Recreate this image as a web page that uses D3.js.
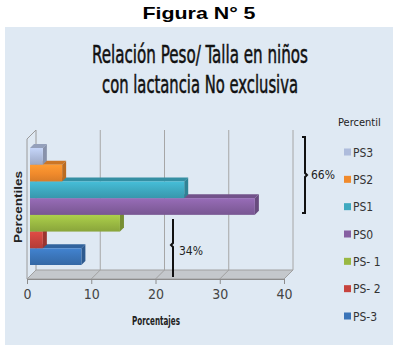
<!DOCTYPE html>
<html>
<head>
<meta charset="utf-8">
<script src="https://cdn.jsdelivr.net/npm/d3@7"></script>
<style>
  body { margin: 0; background: #fff; }
  svg { display: block; }
</style>
</head>
<body>
<svg id="chart" width="399" height="350"></svg>
<script>
const categories = ["PS3", "PS2", "PS1", "PS0", "PS- 1", "PS- 2", "PS-3"]
const values = [2, 5, 24, 35, 14, 2, 8]
const barColors = ["#aebcdc", "#f08a2c", "#3ea8bf", "#8660a2", "#99b842", "#c7433d", "#3a74b8"]
const xTicks = [0, 10, 20, 30, 40]
const groups = [
  { label: "66%", from: "PS3", to: "PS0" },
  { label: "34%", from: "PS- 1", to: "PS-3" },
]

const svg = d3.select("#chart")
const condensed = "'Liberation Sans Narrow', 'DejaVu Sans Condensed', Lato, sans-serif"

svg.append("text")
  .attr("x", 199).attr("y", 19)
  .attr("text-anchor", "middle")
  .attr("font-family", "'Liberation Sans', Arial, sans-serif")
  .attr("font-weight", "bold").attr("font-size", 17)
  .attr("textLength", 113).attr("lengthAdjust", "spacingAndGlyphs")
  .text("Figura N° 5")

// chart panel
svg.append("rect")
  .attr("x", 5).attr("y", 27).attr("width", 388).attr("height", 318)
  .attr("fill", "#dfe9f3")

const titleLines = ["Relación Peso/ Talla en niños", "con lactancia No exclusiva"]
const titleW = [216, 196]
svg.selectAll(".title").data(titleLines).join("text")
  .attr("class", "title")
  .attr("x", 200).attr("y", (d, i) => 63 + i * 30)
  .attr("text-anchor", "middle")
  .attr("font-family", condensed).attr("font-size", 24)
  .attr("fill", "#111").attr("stroke", "#111").attr("stroke-width", 0.5)
  .attr("textLength", (d, i) => titleW[i]).attr("lengthAdjust", "spacingAndGlyphs")
  .text(d => d)

// scales
const x = d3.scaleLinear().domain([0, 40]).range([27, 284])
const y = d3.scaleBand().domain(categories).range([148, 265]).padding(0)
const depth = { dx: 9, dy: -9 }   // floor / wall depth
const bd = { dx: 4, dy: -4 }       // bar depth
const floorY = 279
const wallTop = 139

const g = svg.append("g")

// left wall
g.append("path")
  .attr("d", `M${x(0)},${floorY}V${wallTop}L${x(0) + depth.dx},${wallTop + depth.dy}V${floorY + depth.dy}`)
  .attr("fill", "none").attr("stroke", "#9a9a9a").attr("stroke-width", 1)

// back wall gridlines
g.selectAll(".grid").data(xTicks.slice(1)).join("line")
  .attr("class", "grid")
  .attr("x1", d => x(d) + depth.dx).attr("x2", d => x(d) + depth.dx)
  .attr("y1", wallTop + depth.dy).attr("y2", floorY + depth.dy)
  .attr("stroke", "#a6a6a6").attr("stroke-width", 1)

// floor
g.append("path")
  .attr("d", `M${x(0)},${floorY}H${x(40)}l${depth.dx},${depth.dy}H${x(0) + depth.dx}Z`)
  .attr("fill", "#c4c8cc").attr("stroke", "#a0a0a0").attr("stroke-width", 1)
g.selectAll(".floorline").data(xTicks).join("line")
  .attr("class", "floorline")
  .attr("x1", d => x(d)).attr("y1", floorY)
  .attr("x2", d => x(d) + depth.dx).attr("y2", floorY + depth.dy)
  .attr("stroke", "#a0a0a0")

// x axis
const xAxis = d3.axisBottom(x).tickValues(xTicks).tickSize(5).tickPadding(5)
const gx = g.append("g").attr("transform", `translate(0,${floorY})`).call(xAxis)
gx.select(".domain").attr("stroke", "#8c8c8c")
gx.selectAll(".tick line").attr("stroke", "#8c8c8c")
gx.selectAll(".tick text")
  .attr("font-family", condensed).attr("font-size", 14).attr("fill", "#444")

// gradients
const defs = svg.append("defs")
barColors.forEach((c, i) => {
  const grad = defs.append("linearGradient").attr("id", "gb" + i)
    .attr("x1", 0).attr("y1", 0).attr("x2", 0).attr("y2", 1)
  grad.append("stop").attr("offset", "0%").attr("stop-color", d3.color(c).brighter(0.35))
  grad.append("stop").attr("offset", "55%").attr("stop-color", c)
  grad.append("stop").attr("offset", "100%").attr("stop-color", d3.color(c).darker(0.3))
})

// bars, bottom first so upper bars overlap lower ones
const data = categories.map((c, i) => ({ cat: c, v: values[i], i }))
const x0 = x(0) + 3
const bars = g.selectAll(".bar").data(data.slice().reverse()).join("g").attr("class", "bar")
bars.append("path")
  .attr("d", d => {
    const x1 = x(d.v) + 3, y0 = y(d.cat)
    return `M${x0},${y0}H${x1}l${bd.dx},${bd.dy}H${x0 + bd.dx}Z`
  })
  .attr("fill", d => d3.color(barColors[d.i]).darker(0.45))
bars.append("path")
  .attr("d", d => {
    const x1 = x(d.v) + 3, y0 = y(d.cat), y1 = y0 + y.bandwidth()
    return `M${x1},${y0}l${bd.dx},${bd.dy}V${y1 + bd.dy}L${x1},${y1}Z`
  })
  .attr("fill", d => d3.color(barColors[d.i]).darker(0.7))
bars.append("rect")
  .attr("x", x0).attr("y", d => y(d.cat))
  .attr("width", d => x(d.v) + 3 - x0)
  .attr("height", y.bandwidth())
  .attr("fill", d => `url(#gb${d.i})`)

// braces
const brace66 = { x: 305, y0: 137, y1: 213 }
const b66 = svg.append("g")
b66.append("path")
  .attr("d", `M${brace66.x - 3},${brace66.y0}h3V${(brace66.y0 + brace66.y1) / 2 - 2}l2,2l-2,2V${brace66.y1}h-3`)
  .attr("fill", "none").attr("stroke", "#111").attr("stroke-width", 2)
b66.append("text")
  .attr("x", brace66.x + 6).attr("y", (brace66.y0 + brace66.y1) / 2 + 4)
  .attr("font-family", condensed).attr("font-size", 12).attr("fill", "#222")
  .text(groups[0].label)

const brace34 = { x: 173, y0: 219, y1: 277 }
const b34 = svg.append("g")
b34.append("path")
  .attr("d", `M${brace34.x},${brace34.y0}V${brace34.y0 + 24}l-2,2l2,2V${brace34.y1}`)
  .attr("fill", "none").attr("stroke", "#111").attr("stroke-width", 2)
b34.append("text")
  .attr("x", brace34.x + 6).attr("y", 255)
  .attr("font-family", condensed).attr("font-size", 12).attr("fill", "#222")
  .text(groups[1].label)

// axis titles
svg.append("text")
  .attr("transform", "translate(22,207) rotate(-90)")
  .attr("text-anchor", "middle")
  .attr("font-family", "'Liberation Sans', Arial, sans-serif")
  .attr("font-weight", "bold").attr("font-size", 10.5).attr("fill", "#222")
  .attr("textLength", 72).attr("lengthAdjust", "spacingAndGlyphs")
  .text("Percentiles")

svg.append("text")
  .attr("x", 156).attr("y", 325)
  .attr("text-anchor", "middle")
  .attr("font-family", condensed).attr("font-weight", "bold").attr("font-size", 12).attr("fill", "#222")
  .attr("textLength", 48).attr("lengthAdjust", "spacingAndGlyphs")
  .text("Porcentajes")

// legend
const ly = d3.scalePoint().domain(categories).range([152, 316])
svg.append("text")
  .attr("x", 338).attr("y", 126)
  .attr("font-family", condensed).attr("font-size", 11).attr("fill", "#222")
  .text("Percentil")
const li = svg.selectAll(".legend_item").data(data).join("g")
  .attr("class", "legend_item")
  .attr("transform", d => `translate(344,${ly(d.cat)})`)
li.append("rect")
  .attr("x", 0).attr("y", -3.5).attr("width", 7).attr("height", 7)
  .attr("fill", d => barColors[d.i])
li.append("text")
  .attr("x", 9).attr("y", 4.5)
  .attr("font-family", condensed).attr("font-size", 12).attr("fill", "#333")
  .text(d => d.cat)
</script>
</body>
</html>
